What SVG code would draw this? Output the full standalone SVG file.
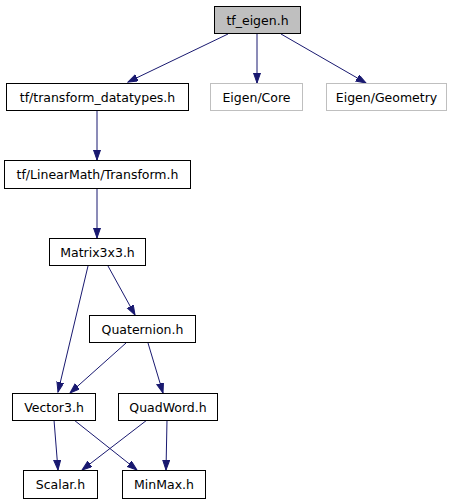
<svg xmlns="http://www.w3.org/2000/svg" width="457" height="504" viewBox="0 0 457 504">
<defs>
<style>
.n rect{fill:#fff;stroke:#000;stroke-width:1}
.n.g rect{fill:#bfbfbf}
.n.x rect{stroke:#bfbfbf}
.n text{font-family:"DejaVu Sans",sans-serif;font-size:12.5px;text-anchor:middle;fill:#000}
.e path{fill:none;stroke:#191970;stroke-width:1;marker-end:url(#a)}
</style>
<marker id="a" markerUnits="userSpaceOnUse" markerWidth="11" markerHeight="8" refX="10" refY="3.5" orient="auto">
<path d="M0,0 L10,3.5 L0,7 z" fill="#191970" stroke="#191970"/>
</marker>
</defs>
<rect width="457" height="504" fill="#fff"/>
<g id="edges" class="e">
<path d="M228,34 L128,82"/>
<path d="M257,34 L257,83"/>
<path d="M281,34 L366,83"/>
<path d="M97,111 L97,160"/>
<path d="M97,189 L97,238"/>
<path d="M88,266 L58,392"/>
<path d="M108,266 L135,315"/>
<path d="M126,343 L70,393"/>
<path d="M148,343 L163,393"/>
<path d="M54,420 L58,470"/>
<path d="M74,420 L137,470"/>
<path d="M147,420 L82,470"/>
<path d="M167,420 L166,470"/>
</g>
<g id="tf_eigen" class="n g"><rect x="214.5" y="6.5" width="86" height="27"/><text x="257.5" y="24.5">tf_eigen.h</text></g>
<g id="transform_datatypes" class="n"><rect x="6.5" y="83.5" width="182" height="27"/><text x="97.5" y="101.5">tf/transform_datatypes.h</text></g>
<g id="eigen_core" class="n x"><rect x="210.5" y="83.5" width="92" height="27"/><text x="256.5" y="101.5">Eigen/Core</text></g>
<g id="eigen_geometry" class="n x"><rect x="326.5" y="83.5" width="120" height="27"/><text x="386.5" y="101.5">Eigen/Geometry</text></g>
<g id="transform" class="n"><rect x="4.5" y="160.5" width="186" height="28"/><text x="97.5" y="179">tf/LinearMath/Transform.h</text></g>
<g id="matrix3x3" class="n"><rect x="49.5" y="238.5" width="96" height="27"/><text x="97.5" y="256.5">Matrix3x3.h</text></g>
<g id="quaternion" class="n"><rect x="89.5" y="315.5" width="106" height="27"/><text x="142.5" y="333.5">Quaternion.h</text></g>
<g id="vector3" class="n"><rect x="12.5" y="393.5" width="83" height="27"/><text x="54" y="411.5">Vector3.h</text></g>
<g id="quadword" class="n"><rect x="118.5" y="393.5" width="99" height="27"/><text x="168" y="411.5">QuadWord.h</text></g>
<g id="scalar" class="n"><rect x="23.5" y="470.5" width="74" height="28"/><text x="60.5" y="489">Scalar.h</text></g>
<g id="minmax" class="n"><rect x="122.5" y="470.5" width="83" height="28"/><text x="164" y="489">MinMax.h</text></g>
</svg>
